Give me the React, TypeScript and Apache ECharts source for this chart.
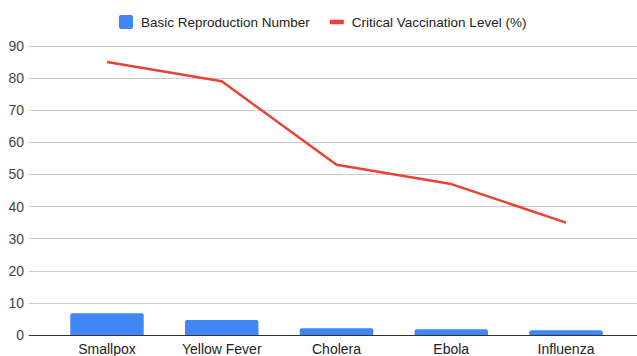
import React, { useEffect, useRef } from "react";
import * as echarts from "echarts";

const categories = ["Smallpox", "Yellow Fever", "Cholera", "Ebola", "Influenza"];
const reproductionNumber = [6.8, 4.7, 2.1, 1.8, 1.5];
const vaccinationLevel = [85, 79, 53, 47, 35];
const yTicks = { min: 0, max: 90, interval: 10 };

export default function App() {
  const ref = useRef<HTMLDivElement>(null);
  useEffect(() => {
    if (!ref.current) return;
    const chart = echarts.init(ref.current, undefined, { renderer: "svg" });
    const font = "'Liberation Sans', Arial, sans-serif";
    chart.setOption({
      animation: false,
      backgroundColor: "#ffffff",
      textStyle: { fontFamily: font },
      legend: {
        top: 10,
        left: 114,
        itemWidth: 14,
        itemHeight: 14,
        itemGap: 20,
        textStyle: { fontSize: 13.5, color: "#222", fontFamily: font, padding: [0, 0, 0, 3] },
        data: [
          { name: "Basic Reproduction Number", icon: "path://M2,0h10a2,2 0 0 1 2,2v10a2,2 0 0 1 -2,2h-10a2,2 0 0 1 -2,-2v-10a2,2 0 0 1 2,-2z" },
          { name: "Critical Vaccination Level (%)", icon: "path://M0,0h14v4.5h-14z" },
        ],
      },
      grid: [
        { left: 29, right: 0, top: 46, bottom: 21 },
        { left: 49.6, right: 13.6, top: 46, bottom: 21 },
      ],
      xAxis: [
        {
          type: "value",
          gridIndex: 0,
          min: 0,
          max: 1,
          axisLabel: { show: false },
          axisTick: { show: false },
          splitLine: { show: false },
          axisLine: { show: true, onZero: false, lineStyle: { color: "#333", width: 1 } },
        },
        {
          type: "category",
          gridIndex: 1,
          data: categories,
          axisLine: { show: false },
          axisTick: { show: false },
          axisLabel: { fontSize: 14, color: "#222", margin: 7, fontFamily: font },
        },
      ],
      yAxis: [
        {
          type: "value",
          gridIndex: 0,
          min: yTicks.min,
          max: yTicks.max,
          interval: yTicks.interval,
          axisLine: { show: false },
          axisTick: { show: false },
          axisLabel: { fontSize: 14, color: "#444", margin: 5, fontFamily: font },
          splitLine: { lineStyle: { color: "#cccccc", width: 1 } },
        },
        {
          type: "value",
          gridIndex: 1,
          min: yTicks.min,
          max: yTicks.max,
          interval: yTicks.interval,
          show: false,
          splitLine: { show: false },
        },
      ],
      series: [
        {
          name: "Basic Reproduction Number",
          type: "bar",
          xAxisIndex: 1,
          yAxisIndex: 1,
          data: reproductionNumber,
          barWidth: "64%",
          itemStyle: { color: "#4285f4", borderRadius: [2, 2, 0, 0] },
        },
        {
          name: "Critical Vaccination Level (%)",
          type: "line",
          xAxisIndex: 1,
          yAxisIndex: 1,
          data: vaccinationLevel,
          symbol: "none",
          lineStyle: { color: "#ea4335", width: 2.5 },
          itemStyle: { color: "#ea4335" },
        },
      ],
    });
    return () => chart.dispose();
  }, []);
  return <div ref={ref} style={{ width: 637, height: 356, position: "fixed", left: 0, top: 0 }} />;
}
